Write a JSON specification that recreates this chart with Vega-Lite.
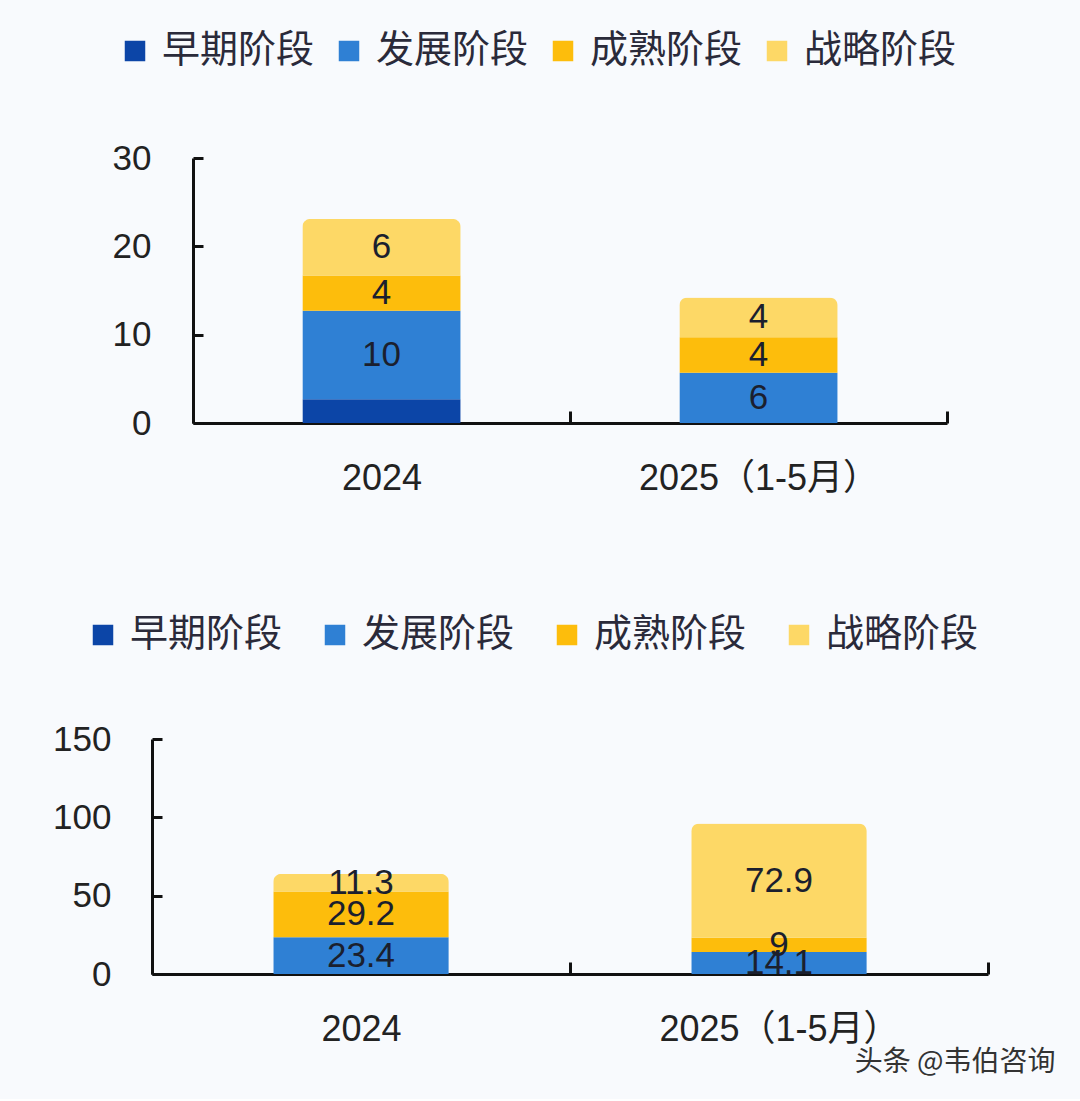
{
  "$schema": "https://vega.github.io/schema/vega-lite/v6.json",
  "background": "#f8fafd",
  "padding": {"left": 52, "top": 32, "right": 24, "bottom": 22},
  "bounds": "flush",
  "center": true,
  "spacing": 316,
  "data": {
    "values": [
      {"panel": "a", "year": "2024", "stage": "早期阶段", "k": 1, "v": 2.7, "label": ""},
      {"panel": "a", "year": "2024", "stage": "发展阶段", "k": 2, "v": 10, "label": "10"},
      {"panel": "a", "year": "2024", "stage": "成熟阶段", "k": 3, "v": 4, "label": "4"},
      {"panel": "a", "year": "2024", "stage": "战略阶段", "k": 4, "v": 6.4, "label": "6"},
      {"panel": "a", "year": "2025（1-5月）", "stage": "早期阶段", "k": 1, "v": 0, "label": ""},
      {"panel": "a", "year": "2025（1-5月）", "stage": "发展阶段", "k": 2, "v": 5.7, "label": "6"},
      {"panel": "a", "year": "2025（1-5月）", "stage": "成熟阶段", "k": 3, "v": 4, "label": "4"},
      {"panel": "a", "year": "2025（1-5月）", "stage": "战略阶段", "k": 4, "v": 4.5, "label": "4"},
      {"panel": "b", "year": "2024", "stage": "早期阶段", "k": 1, "v": 0, "label": ""},
      {"panel": "b", "year": "2024", "stage": "发展阶段", "k": 2, "v": 23.4, "label": "23.4"},
      {"panel": "b", "year": "2024", "stage": "成熟阶段", "k": 3, "v": 29.2, "label": "29.2"},
      {"panel": "b", "year": "2024", "stage": "战略阶段", "k": 4, "v": 11.3, "label": "11.3"},
      {"panel": "b", "year": "2025（1-5月）", "stage": "早期阶段", "k": 1, "v": 0, "label": ""},
      {"panel": "b", "year": "2025（1-5月）", "stage": "发展阶段", "k": 2, "v": 14.1, "label": "14.1"},
      {"panel": "b", "year": "2025（1-5月）", "stage": "成熟阶段", "k": 3, "v": 9, "label": "9"},
      {"panel": "b", "year": "2025（1-5月）", "stage": "战略阶段", "k": 4, "v": 72.9, "label": "72.9"}
    ]
  },
  "vconcat": [
    {
      "width": 754,
      "height": 265,
      "transform": [{"filter": "datum.panel == 'a'"}],
      "encoding": {
        "x": {
          "field": "year",
          "type": "nominal",
          "sort": null,
          "scale": {"paddingInner": 0, "paddingOuter": 0},
          "axis": {"title": null, "labelAngle": 0, "tickBand": "extent", "tickSize": -12, "labelPadding": 50, "labelLimit": 400}
        }
      },
      "layer": [
        {
          "mark": {"type": "bar", "cornerRadiusEnd": 8, "width": {"band": 0.42}},
          "encoding": {
            "y": {
              "field": "v",
              "type": "quantitative",
              "stack": "zero",
              "scale": {"domain": [0, 30], "nice": false},
              "axis": {"title": null, "values": [0, 10, 20, 30], "tickSize": -10, "labelPadding": 52}
            },
            "order": {"field": "k", "type": "quantitative"},
            "color": {
              "field": "stage",
              "type": "nominal",
              "scale": {
                "domain": ["早期阶段", "发展阶段", "成熟阶段", "战略阶段"],
                "range": ["#0c45a7", "#2f80d4", "#fdbd0c", "#fdd866"]
              },
              "legend": {"legendX": -77, "legendY": -126, "columnPadding": 15}
            }
          }
        },
        {
          "transform": [
            {"stack": "v", "groupby": ["year"], "sort": [{"field": "k"}], "as": ["y0", "y1"]},
            {"calculate": "(datum.y0 + datum.y1) / 2", "as": "ym"},
            {"filter": "datum.label != ''"}
          ],
          "mark": {"type": "text", "fontSize": 35, "color": "#1b1f2e"},
          "encoding": {
            "y": {
              "field": "ym",
              "type": "quantitative",
              "scale": {"domain": [0, 30], "nice": false},
              "axis": {"title": null, "values": [0, 10, 20, 30], "tickSize": -10, "labelPadding": 52}
            },
            "text": {"field": "label"}
          }
        }
      ]
    },
    {
      "width": 836,
      "height": 235,
      "transform": [{"filter": "datum.panel == 'b'"}],
      "title": {
        "text": "头条 @韦伯咨询",
        "orient": "bottom",
        "anchor": "end",
        "dx": 66,
        "offset": 2,
        "fontSize": 28,
        "font": "Noto Sans CJK SC",
        "fontWeight": "normal",
        "color": "#333333"
      },
      "encoding": {
        "x": {
          "field": "year",
          "type": "nominal",
          "sort": null,
          "scale": {"paddingInner": 0, "paddingOuter": 0},
          "axis": {"title": null, "labelAngle": 0, "tickBand": "extent", "tickSize": -12, "labelPadding": 50, "labelLimit": 400}
        }
      },
      "layer": [
        {
          "mark": {"type": "bar", "cornerRadiusEnd": 8, "width": {"band": 0.42}},
          "encoding": {
            "y": {
              "field": "v",
              "type": "quantitative",
              "stack": "zero",
              "scale": {"domain": [0, 150], "nice": false},
              "axis": {"title": null, "values": [0, 50, 100, 150], "tickSize": -10, "labelPadding": 51}
            },
            "order": {"field": "k", "type": "quantitative"},
            "color": {
              "field": "stage",
              "type": "nominal",
              "scale": {
                "domain": ["早期阶段", "发展阶段", "成熟阶段", "战略阶段"],
                "range": ["#0c45a7", "#2f80d4", "#fdbd0c", "#fdd866"]
              },
              "legend": {"legendX": -68, "legendY": -123, "columnPadding": 33}
            }
          }
        },
        {
          "transform": [
            {"stack": "v", "groupby": ["year"], "sort": [{"field": "k"}], "as": ["y0", "y1"]},
            {"calculate": "(datum.y0 + datum.y1) / 2", "as": "ym"},
            {"filter": "datum.label != ''"}
          ],
          "mark": {"type": "text", "fontSize": 35, "color": "#1b1f2e"},
          "encoding": {
            "y": {
              "field": "ym",
              "type": "quantitative",
              "scale": {"domain": [0, 150], "nice": false},
              "axis": {"title": null, "values": [0, 50, 100, 150], "tickSize": -10, "labelPadding": 51}
            },
            "text": {"field": "label"}
          }
        }
      ]
    }
  ],
  "resolve": {"scale": {"color": "independent"}},
  "config": {
    "view": {"stroke": null},
    "font": "'Liberation Sans', 'Noto Sans CJK SC'",
    "axis": {
      "grid": false,
      "domainColor": "#111111",
      "domainWidth": 3,
      "tickColor": "#111111",
      "tickWidth": 3,
      "labelFont": "'Liberation Sans', 'Noto Sans CJK SC'",
      "labelFontSize": 35,
      "labelColor": "#222222"
    },
    "axisX": {"labelFontSize": 36},
    "legend": {
      "orient": "none",
      "direction": "horizontal",
      "title": null,
      "symbolType": "square",
      "symbolSize": 420,
      "symbolStrokeWidth": 0,
      "symbolOpacity": 1,
      "labelFont": "Noto Sans CJK SC",
      "labelFontSize": 38,
      "labelColor": "#2a2a3a",
      "labelOffset": 8,
      "labelLimit": 300
    }
  }
}
